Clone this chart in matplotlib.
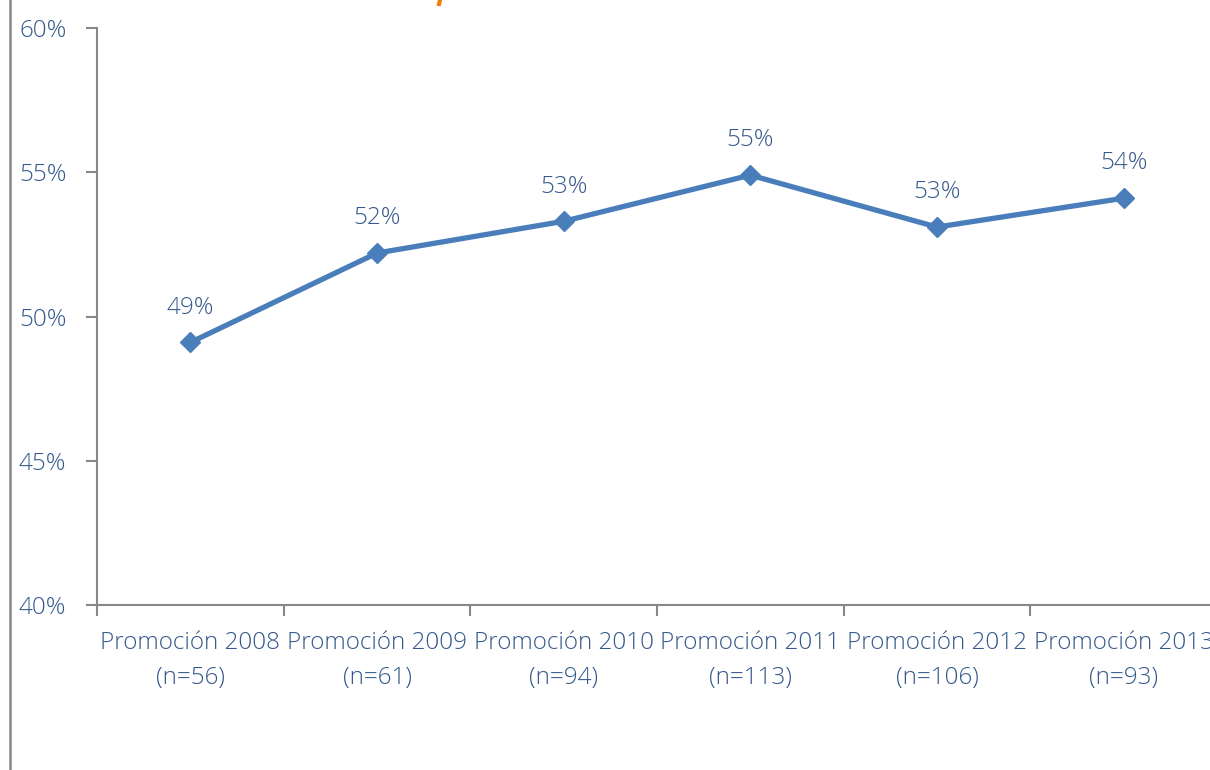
import matplotlib.pyplot as plt
from matplotlib.lines import Line2D

categories = ["Promoción 2008\n(n=56)", "Promoción 2009\n(n=61)", "Promoción 2010\n(n=94)",
              "Promoción 2011\n(n=113)", "Promoción 2012\n(n=106)", "Promoción 2013\n(n=93)"]
values = [49.1, 52.2, 53.3, 54.9, 53.1, 54.1]
labels = ["49%", "52%", "53%", "55%", "53%", "54%"]
yticks = [40, 45, 50, 55, 60]

plt.rcParams['font.family'] = ['Open Sans', 'DejaVu Sans']
plt.rcParams['font.weight'] = 'light'
txt = "#35598c"
grey = "#888888"
blue = "#4a7ebb"
fs = 17.5

fig = plt.figure(figsize=(12.1, 7.7), dpi=100)
ax = fig.add_axes([97/1210, 1 - 605/770, 1120/1210, 577/770])

x = list(range(len(values)))
ax.plot(x, values, color=blue, lw=3.8, marker="D", markersize=10.5,
        markerfacecolor=blue, markeredgecolor=blue, solid_joinstyle="miter")
for xi, v, lab in zip(x, values, labels):
    ax.annotate(lab, (xi, v), xytext=(0, 25), textcoords="offset points",
                ha="center", va="center", fontsize=fs, color=txt)

ax.set_xlim(-0.5, len(values) - 0.5)
ax.set_ylim(40, 60)
ax.set_yticks(yticks)
ax.set_yticklabels([f"{t}%" for t in yticks], fontsize=fs, color=txt)
ax.set_xticks([i - 0.5 for i in range(len(values) + 1)])
ax.set_xticklabels([])
ax.set_xticks(x, minor=True)
ax.set_xticklabels(categories, minor=True, fontsize=fs, color=txt, linespacing=1.6)
ax.tick_params(axis="x", which="minor", length=0, pad=19)
ax.tick_params(axis="both", which="major", length=8, width=1.5, color=grey)
ax.tick_params(axis="y", pad=14)

for s in ["top", "right"]:
    ax.spines[s].set_visible(False)
for s in ["left", "bottom"]:
    ax.spines[s].set_color(grey)
    ax.spines[s].set_linewidth(1.5)

fig.add_artist(Line2D([10/1210, 10/1210], [0, 1], color=grey, lw=1.8))
fig.add_artist(Line2D([440/1210, 439/1210], [1, 1 - 4/770], color="#f07f09", lw=3))

fig.savefig("out.png", dpi=100)
